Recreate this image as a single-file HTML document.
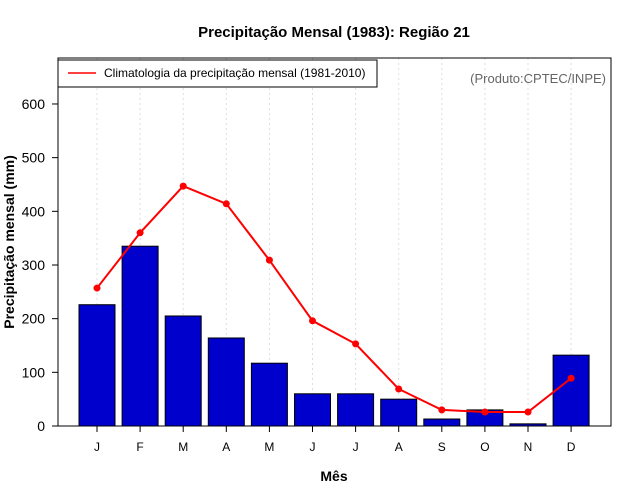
<!DOCTYPE html>
<html><head><meta charset="utf-8"><style>
body{margin:0;background:#fff;}
svg{display:block;font-family:"Liberation Sans",sans-serif;}
</style></head><body>
<svg id="c" width="640" height="500">
<text x="334" y="37" text-anchor="middle" font-size="15" font-weight="bold">Precipitação Mensal (1983): Região 21</text>
<g id="grid"></g>
<g id="bars"></g>
<g id="line"></g>
<rect x="58" y="58" width="553" height="368" fill="none" stroke="#000"/>
<g id="yaxis"></g>
<g id="xaxis"></g>
<text transform="translate(14,242) rotate(-90)" text-anchor="middle" font-size="14" font-weight="bold">Precipitação mensal (mm)</text>
<text x="334" y="481" text-anchor="middle" font-size="14" font-weight="bold">Mês</text>
<g>
<rect x="58" y="60" width="319" height="27" fill="#fff" stroke="#000"/>
<line x1="68" y1="73" x2="96" y2="73" stroke="red" stroke-width="1.5"/>
<text x="104" y="77" font-size="12">Climatologia da precipitação mensal (1981-2010)</text>
</g>
<text x="606" y="83" text-anchor="end" font-size="13" fill="#666">(Produto:CPTEC/INPE)</text>
</svg>
<script>
const months=["J","F","M","A","M","J","J","A","S","O","N","D"];
const precip=[226,335,205,164,117,60,60,50,13,30,4,132];
const climatology=[257,360,447,414,309,196,153,69,30,26,26,89];
const yTicks=[0,100,200,300,400,500,600];
const NS="http://www.w3.org/2000/svg";
const y=v=>426-v*0.5367;
const x=i=>97+i*43.1;
function mk(t,a,p){const e=document.createElementNS(NS,t);for(const k in a)e.setAttribute(k,a[k]);document.getElementById(p).appendChild(e);return e;}
months.forEach((m,i)=>{
  const g=mk('line',{x1:x(i),x2:x(i),y1:58,y2:426,stroke:'#ddd','stroke-dasharray':'2,3'},'grid');
  
  
  const b=mk('rect',{x:x(i)-18,y:y(precip[i]),width:36,height:426-y(precip[i]),fill:'#0000cd',stroke:'#000','stroke-width':1},'bars');
  
  
  const t=mk('line',{x1:x(i),x2:x(i),y1:426,y2:432,stroke:'#000'},'xaxis');
  
  
  const l=mk('text',{x:x(i),y:451,'text-anchor':'middle','font-size':12},'xaxis');
  l.textContent=m;
  
  
});
const pl=mk('polyline',{points:climatology.map((v,i)=>x(i)+','+y(v)).join(' '),fill:'none',stroke:'red','stroke-width':2},'line');


climatology.forEach((v,i)=>{
  const c=mk('circle',{cx:x(i),cy:y(v),r:3.5,fill:'red'},'line');
  
  
});
yTicks.forEach(v=>{
  const t=mk('line',{x1:52,x2:58,y1:y(v),y2:y(v),stroke:'#000'},'yaxis');
  
  
  const l=mk('text',{x:45,y:y(v)+5,'text-anchor':'end','font-size':14},'yaxis');
  l.textContent=v;
  
  
});
</script>
</body></html>
